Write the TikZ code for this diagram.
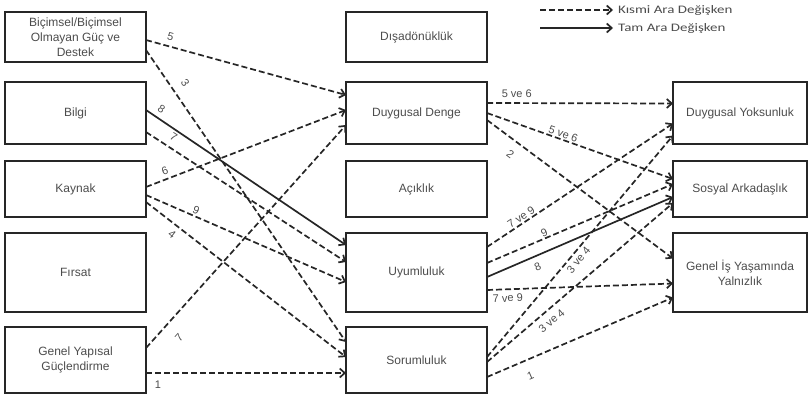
\documentclass[tikz,border=0pt]{standalone}
\usepackage{fontspec}
\setmainfont{Liberation Sans}
\newfontfamily\legendfont{Carlito}[FakeStretch=1.3]
\usetikzlibrary{positioning,arrows.meta}

\begin{document}
\begin{tikzpicture}[x=1pt, y=1pt, >={Straight Barb[length=5pt,width=9pt]},
  every node/.style={font=\fontsize{12}{15}\selectfont, text=black!70},
  b/.style={draw=black!85, line width=1.3pt, align=center, inner sep=2pt, outer sep=0pt, minimum width=141pt},
  r/.style={b, minimum width=134pt},
  pa/.style={->, draw=black!85, line width=1.7pt, dash pattern=on 6pt off 3pt},
  ta/.style={->, draw=black!85, line width=1.7pt},
  lab/.style={font=\fontsize{11}{12}\selectfont, sloped, inner sep=1pt},
  lg/.style={font=\legendfont\fontsize{11.5}{12}\selectfont, anchor=west, inner sep=5pt}]
  \useasboundingbox (0,0) rectangle (810,-400);
  % left column: empowerment dimensions
  \node[b, minimum height=50pt] (guc) at (75.5,-37) {Biçimsel/Biçimsel\\Olmayan Güç ve\\Destek};
  \node[b, minimum height=62pt, below=20pt of guc] (bilgi) {Bilgi};
  \node[b, minimum height=56pt, below=17pt of bilgi] (kaynak) {Kaynak};
  \node[b, minimum height=79pt, below=16pt of kaynak] (firsat) {Fırsat};
  \node[b, minimum height=66pt, below=15pt of firsat] (genel) {Genel Yapısal\\Güçlendirme};
  % middle column: personality traits
  \node[b, minimum height=50pt, right=200pt of guc] (disa) {Dışadönüklük};
  \node[b, minimum height=62pt, right=200pt of bilgi] (denge) {Duygusal Denge};
  \node[b, minimum height=56pt, right=200pt of kaynak] (acik) {Açıklık};
  \node[b, minimum height=79pt, right=200pt of firsat] (uyum) {Uyumluluk};
  \node[b, minimum height=66pt, right=200pt of genel] (sorum) {Sorumluluk};
  % right column: loneliness at work
  \node[r, minimum height=62pt, right=186pt of denge] (yoksun) {Duygusal Yoksunluk};
  \node[r, minimum height=56pt, right=186pt of acik] (sosyal) {Sosyal Arkadaşlık};
  \node[r, minimum height=79pt, right=186pt of uyum] (yalniz) {Genel İş Yaşamında\\Yalnızlık};
  % legend
  \coordinate (k0) at (540,-10);
  \coordinate (t0) at (540,-28);
  \node[lg] (kismi) at (613,-10) {Kısmi Ara Değişken};
  \node[lg] (tam) at (613,-28) {Tam Ara Değişken};
  \draw[pa] (k0) -- (kismi.west);
  \draw[ta] (t0) -- (tam.west);
  % left -> middle
  \draw[pa] ([yshift=-3pt]guc.east) -- node[lab, above=4pt, pos=.11] {5} ([yshift=18pt]denge.west);
  \draw[pa] ([yshift=-13pt]guc.east) -- node[lab, above=8pt, pos=.14] {3} ([yshift=18pt]sorum.west);
  \draw[ta] ([yshift=3pt]bilgi.east) -- node[lab, above=4pt, pos=.05] {8} ([yshift=27.5pt]uyum.west);
  \draw[pa] ([yshift=-19pt]bilgi.east) -- node[lab, above=5pt, pos=.11] {7} ([yshift=10.5pt]uyum.west);
  \draw[pa] ([yshift=2pt]kaynak.east) -- node[lab, above=3pt, pos=.11] {6} ([yshift=3pt]denge.west);
  \draw[pa] ([yshift=-6pt]kaynak.east) -- node[lab, above, pos=.24] {9} ([yshift=-9.5pt]uyum.west);
  \draw[pa] ([yshift=-13pt]kaynak.east) -- node[lab, below=4pt, pos=.16] {4} ([yshift=3pt]sorum.west);
  \draw[pa] ([yshift=12pt]genel.east) -- node[lab, below=12pt, pos=.10] {7} ([yshift=-12pt]denge.west);
  \draw[pa] ([yshift=-13pt]genel.east) -- node[lab, below=6pt, pos=.06] {1} ([yshift=-13pt]sorum.west);
  % middle -> right
  \draw[pa] ([yshift=10pt]denge.east) -- node[lab, above=4pt, pos=.16] {5 ve 6} ([yshift=9.5pt]yoksun.west);
  \draw[pa] (denge.east) -- node[lab, above, pos=.4] {5 ve 6} ([yshift=10pt]sosyal.west);
  \draw[pa] ([yshift=-7pt]denge.east) -- node[lab, below=8pt, pos=.17] {2} ([yshift=14pt]yalniz.west);
  \draw[pa] ([yshift=25.5pt]uyum.east) -- node[lab, above, pos=.2] {7 ve 9} ([yshift=-10.5pt]yoksun.west);
  \draw[pa] ([yshift=9.5pt]uyum.east) -- node[lab, above, pos=.32] {9} ([yshift=5pt]sosyal.west);
  \draw[ta] ([yshift=-4.5pt]uyum.east) -- node[lab, below=5pt, pos=.25] {8} ([yshift=-8pt]sosyal.west);
  \draw[pa] ([yshift=-17.5pt]uyum.east) -- node[lab, below=3pt, pos=.11] {7 ve 9} ([yshift=-11pt]yalniz.west);
  \draw[pa] ([yshift=3pt]sorum.east) -- node[lab, below=2pt, pos=.46] {3 ve 4} ([yshift=-22.5pt]yoksun.west);
  \draw[pa] ([yshift=-2pt]sorum.east) -- node[lab, below=5pt, pos=.31] {3 ve 4} ([yshift=-14pt]sosyal.west);
  \draw[pa] ([yshift=-17pt]sorum.east) -- node[lab, below=10pt, pos=.2] {1} ([yshift=-25pt]yalniz.west);
\end{tikzpicture}
\end{document}
